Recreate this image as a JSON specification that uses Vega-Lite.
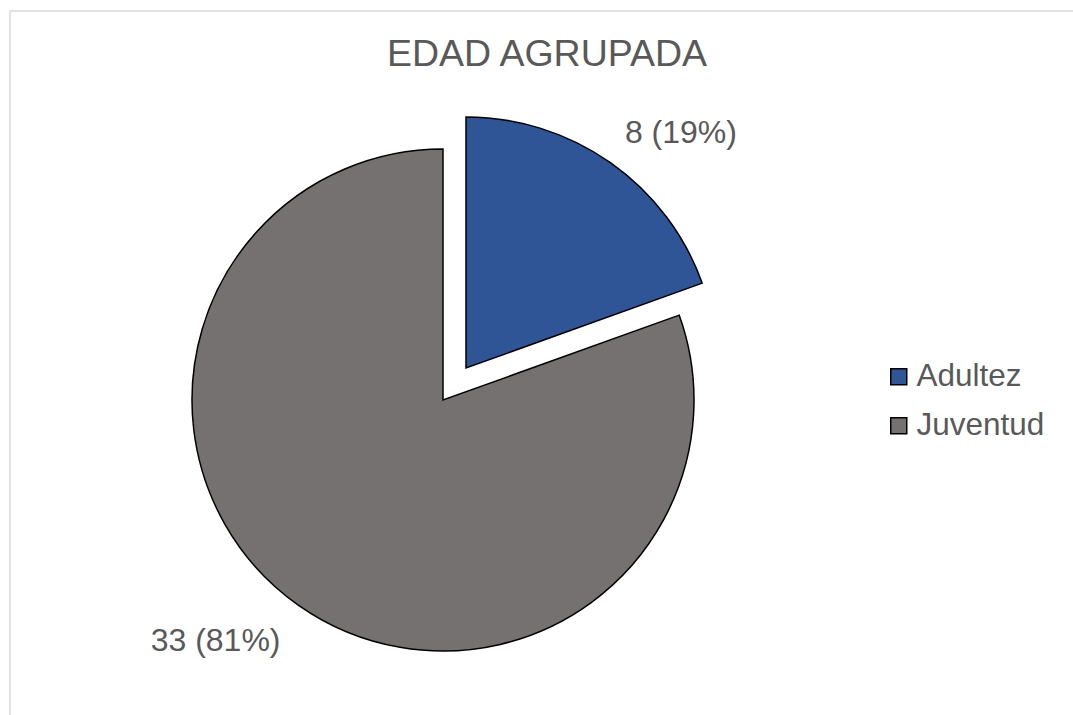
{
  "$schema": "https://vega.github.io/schema/vega-lite/v6.json",
  "width": 1074,
  "height": 778,
  "autosize": {"type": "none"},
  "padding": {"left": 10, "top": 11, "right": 0, "bottom": 0},
  "background": "white",
  "view": {"stroke": "#D9D9D9", "strokeWidth": 1.5},
  "config": {
    "view": {"stroke": "#D9D9D9", "strokeWidth": 1.5},
    "font": "Liberation Sans"
  },
  "title": {
    "text": "EDAD AGRUPADA",
    "fontSize": 37.5,
    "font": "Liberation Sans",
    "fontWeight": "normal",
    "color": "#595959",
    "frame": "group",
    "anchor": "middle",
    "offset": -62
  },
  "data": {
    "values": [
      {"grupo": "Adultez", "n": 8, "etiqueta": "8 (19%)"},
      {"grupo": "Juventud", "n": 33, "etiqueta": "33 (81%)"}
    ]
  },
  "encoding": {
    "theta": {"field": "n", "type": "quantitative", "stack": true},
    "order": {"field": "grupo", "type": "nominal", "sort": "ascending"},
    "color": {
      "field": "grupo",
      "type": "nominal",
      "scale": {"domain": ["Adultez", "Juventud"], "range": ["#2F5597", "#767171"]},
      "legend": {
        "orient": "none",
        "legendX": 873,
        "legendY": 350,
        "title": null,
        "symbolType": "square",
        "symbolSize": 256,
        "symbolStrokeColor": "black",
        "symbolStrokeWidth": 1.5,
        "symbolOpacity": 1,
        "labelFontSize": 31.5,
        "labelFont": "Liberation Sans",
        "labelColor": "#595959",
        "labelOffset": 2,
        "rowPadding": 16,
        "padding": 0
      }
    }
  },
  "layer": [
    {
      "mark": {"type": "arc", "radius": 251, "stroke": "black", "strokeWidth": 1.5, "xOffset": -104},
      "encoding": {
        "opacity": {"condition": {"test": "datum.grupo === 'Juventud'", "value": 1}, "value": 0}
      }
    },
    {
      "mark": {"type": "arc", "radius": 251, "stroke": "black", "strokeWidth": 1.5, "xOffset": -81, "yOffset": -32},
      "encoding": {
        "opacity": {"condition": {"test": "datum.grupo === 'Adultez'", "value": 1}, "value": 0}
      }
    },
    {
      "mark": {"type": "text", "radius": 318, "dx": -49, "dy": -7, "fontSize": 32, "font": "Liberation Sans", "align": "center", "baseline": "middle"},
      "encoding": {
        "text": {"field": "etiqueta"},
        "color": {"value": "#595959"},
        "opacity": {"condition": {"test": "datum.grupo === 'Adultez'", "value": 1}, "value": 0}
      }
    },
    {
      "mark": {"type": "text", "radius": 331, "dx": -141, "dy": -30, "fontSize": 32, "font": "Liberation Sans", "align": "center", "baseline": "middle"},
      "encoding": {
        "text": {"field": "etiqueta"},
        "color": {"value": "#595959"},
        "opacity": {"condition": {"test": "datum.grupo === 'Juventud'", "value": 1}, "value": 0}
      }
    }
  ]
}
